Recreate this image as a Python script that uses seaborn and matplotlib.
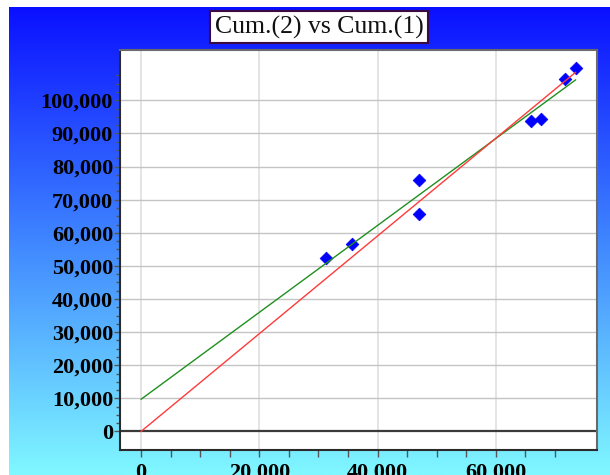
import numpy as np
import matplotlib
matplotlib.use("Agg")
import matplotlib.pyplot as plt
from matplotlib.colors import LinearSegmentedColormap
from matplotlib.ticker import FuncFormatter
import seaborn as sns

# Cumulative values: series 1 on x, series 2 on y
cum1 = [31300, 35600, 47000, 47000, 66000, 67600, 71700, 73500]
cum2 = [52300, 56700, 75800, 65700, 93900, 94300, 106500, 109700]

title = "Cum.(2) vs Cum.(1)"
x_major = [0, 20000, 40000, 60000]
y_major = [0, 10000, 20000, 30000, 40000, 50000, 60000, 70000, 80000, 90000, 100000]

sns.set_style("ticks")
plt.rcParams["font.family"] = ["Liberation Serif", "DejaVu Serif"]

W, H = 610, 475
fig = plt.figure(figsize=(W / 100, H / 100), dpi=100)
fig.patch.set_facecolor("white")

# blue-to-cyan backdrop
bg = fig.add_axes([9 / W, 0, 1 - 9 / W, (H - 7) / H], zorder=-10)
cmap = LinearSegmentedColormap.from_list("bg", ["#0a10ff", "#3f86ff", "#80f8ff"])
bg.imshow(np.linspace(0, 1, 256).reshape(-1, 1), aspect="auto", cmap=cmap,
          extent=[0, 1, 0, 1], origin="upper")
bg.set_axis_off()

ax = fig.add_axes([120 / W, 1 - 450 / H, 477 / W, 400 / H])
ax.set_facecolor("white")

x = np.array(cum1, dtype=float)
y = np.array(cum2, dtype=float)

# least-squares fits: with intercept and through the origin
slope, icpt = np.polyfit(x, y, 1)
slope0 = np.sum(x * y) / np.sum(x * x)
xs = np.array([0.0, x.max()])

ax.axhline(0, color="#3a3a3a", lw=1.6, zorder=2)
sns.scatterplot(x=x, y=y, marker="D", s=42, color="#0000ff", edgecolor="#0000ff",
                linewidth=0.5, ax=ax, zorder=3, legend=False)
sns.lineplot(x=xs, y=icpt + slope * xs, color="#1f8f1f", lw=1.0, ax=ax, zorder=4)
sns.lineplot(x=xs, y=slope0 * xs, color="#ff3a3a", lw=1.0, ax=ax, zorder=4)

ax.set_xlim(-3550, 77100)
ax.set_ylim(-5600, 115200)

ax.set_xticks(x_major)
ax.set_xticks(np.arange(0, 70001, 5000), minor=True)
ax.set_yticks(y_major)
ax.set_yticks(np.arange(0, 107501, 2500), minor=True)

fmt = FuncFormatter(lambda v, p: f"{int(v):,}")
ax.xaxis.set_major_formatter(fmt)
ax.yaxis.set_major_formatter(fmt)

for v in x_major:
    ax.axvline(v, color="#e4e4e4", lw=1.4, zorder=0)
for v in y_major[1:]:
    ax.axhline(v, color="#c4c4c4", lw=1.0, zorder=0)

ax.tick_params(axis="both", which="both", direction="out", color="#555555")
ax.tick_params(axis="x", which="major", length=5, width=1, pad=4)
ax.tick_params(axis="x", which="minor", length=5, width=1)
ax.tick_params(axis="y", which="major", length=4, width=1, pad=1)
ax.tick_params(axis="y", which="minor", length=3, width=1)
for lab in ax.get_xticklabels() + ax.get_yticklabels():
    lab.set_fontsize(16)
    lab.set_fontweight("bold")
    lab.set_color("black")

for side, sp in ax.spines.items():
    sp.set_visible(True)
    sp.set_linewidth(1.5)
    sp.set_color("#2a2a2a" if side in ("left", "bottom") else "#6a6a6a")

ax.set_xlabel("")
ax.set_ylabel("")

fig.text(319 / W, 1 - 27 / H, title, ha="center", va="center", fontsize=18.5,
         color="#111111",
         bbox=dict(boxstyle="square,pad=0.18", fc="white", ec="#3a0a40", lw=1.5))

fig.savefig("out.png", dpi=100)
